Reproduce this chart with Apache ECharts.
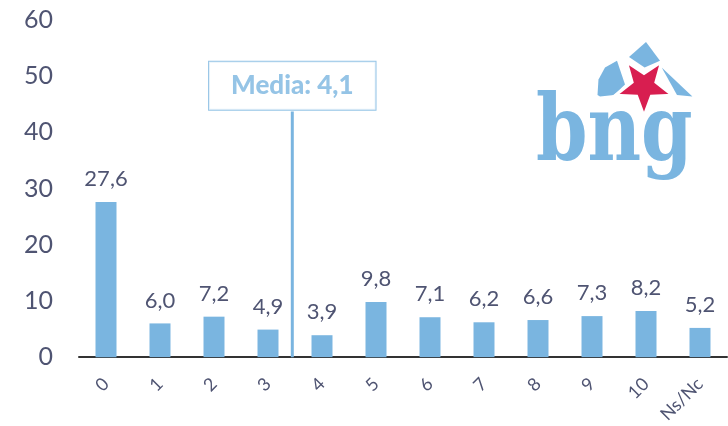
<!DOCTYPE html>
<html>
<head>
<meta charset="utf-8">
<script src="https://cdn.jsdelivr.net/npm/echarts@6/dist/echarts.min.js"></script>
<style>
  html, body { margin: 0; padding: 0; background: #fff; }
  #chart { width: 728px; height: 426px; }
</style>
</head>
<body>
<div id="chart"></div>
<script>
// datos
const categories = ['0', '1', '2', '3', '4', '5', '6', '7', '8', '9', '10', 'Ns/Nc'];
const values = [27.6, 6.0, 7.2, 4.9, 3.9, 9.8, 7.1, 6.2, 6.6, 7.3, 8.2, 5.2];
const mediaLabel = 'Media: 4,1';
const mediaPos = 3.45; // posición visual entre "3" e "4"
const mediaTop = 43.7;
const yTicks = { min: 0, max: 60, interval: 10 };

const blue = '#7ab5e0';
const textColor = '#4f5472';
const font = 'Lato, "Open Sans", sans-serif';

const chart = echarts.init(document.getElementById('chart'), null, { renderer: 'canvas' });

// estrella do logo (punta cara abaixo)
const starPoints = (() => {
  const pts = [];
  const cx = 644, cy = 86, R = 30, r = 12.5;
  for (let i = 0; i < 10; i++) {
    const a = Math.PI / 2 + (i * Math.PI) / 5;
    const rad = i % 2 === 0 ? R : r;
    pts.push([cx + rad * Math.cos(a), cy + rad * Math.sin(a)]);
  }
  return pts;
})();

const option = {
  animation: false,
  grid: { left: 79, right: 1, top: 20, bottom: 67, containLabel: false },
  xAxis: [
    {
      type: 'category',
      data: categories,
      axisLine: { lineStyle: { color: '#333', width: 2 } },
      axisTick: { show: false },
      axisLabel: { rotate: 45, fontSize: 18, color: textColor, fontFamily: font, margin: 24 },
    },
    {
      // eixo oculto para a liña da media
      type: 'value',
      min: -0.5,
      max: categories.length - 0.5,
      show: false,
    },
  ],
  yAxis: {
    type: 'value',
    min: yTicks.min,
    max: yTicks.max,
    interval: yTicks.interval,
    splitLine: { show: false },
    axisLine: { show: false },
    axisTick: { show: false },
    axisLabel: { fontSize: 25, color: textColor, fontFamily: font, margin: 26 },
  },
  series: [
    {
      type: 'bar',
      data: values,
      barWidth: 21,
      itemStyle: { color: blue },
      label: {
        show: true,
        position: 'top',
        distance: 12,
        fontSize: 22,
        color: textColor,
        fontFamily: font,
        formatter: (p) => p.value.toFixed(1).replace('.', ','),
      },
    },
    {
      type: 'line',
      xAxisIndex: 1,
      data: [[mediaPos, 0], [mediaPos, mediaTop]],
      symbol: 'none',
      lineStyle: { color: blue, width: 3 },
      z: 1,
    },
    {
      type: 'scatter',
      xAxisIndex: 1,
      data: [[mediaPos, 48.3]],
      symbolSize: 0,
      label: {
        show: true,
        position: 'inside',
        formatter: mediaLabel,
        fontSize: 26,
        fontWeight: 900,
        fontFamily: font,
        color: blue,
        backgroundColor: '#fff',
        borderColor: blue,
        borderWidth: 1,
        padding: [11, 22, 11, 22],
      },
    },
  ],
  graphic: [
    // logotipo bng
    {
      type: 'polygon',
      shape: { points: [[597.5, 95], [598.5, 79.5], [605, 67.5], [617, 60.7], [625, 84.6], [614, 95], [600, 96.5]] },
      style: { fill: blue },
    },
    {
      type: 'polygon',
      shape: { points: [[629, 57], [646, 42], [660, 60.7], [644.6, 67.5]] },
      style: { fill: blue },
    },
    {
      type: 'polygon',
      shape: { points: [[661.7, 67.5], [692.4, 96.5], [677, 95]] },
      style: { fill: blue },
    },
    {
      type: 'polygon',
      shape: { points: starPoints },
      style: { fill: '#d81e50', stroke: '#fff', lineWidth: 3 },
      z: 10,
    },
    {
      type: 'text',
      x: 536,
      y: 91,
      scaleX: 0.9,
      style: {
        text: 'bng',
        fill: blue,
        font: 'bold 91px "DejaVu Serif Condensed", "DejaVu Serif", serif',
      },
    },
  ],
};

chart.setOption(option);
</script>
</body>
</html>
